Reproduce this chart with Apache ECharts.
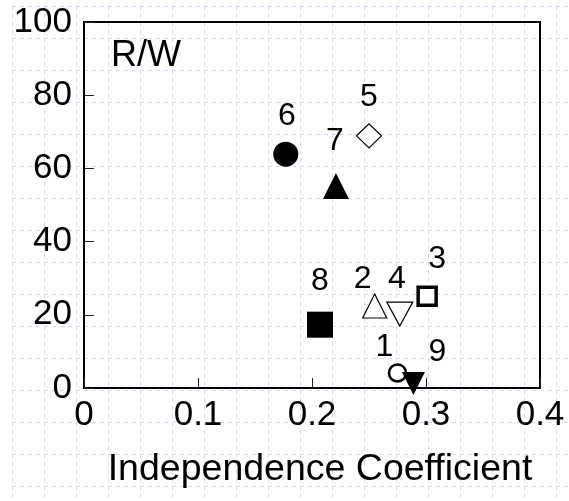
<!DOCTYPE html>
<html lang="en">
  <head>
    <meta charset="UTF-8" />
    <title>R/W vs Independence Coefficient</title>
    <style>
      body {
        margin: 0;
        background-color: #ffffff;
      }
      #chart {
        width: 569px;
        height: 501px;
      }
    </style>
    <script src="https://cdn.jsdelivr.net/npm/echarts@6/dist/echarts.min.js"></script>
  </head>
  <body>
    <div id="chart"></div>
    <script>
      // data
      const pointNames = ["1", "2", "3", "4", "5", "6", "7", "8", "9"];
      const coefValues = [0.275, 0.255, 0.301, 0.277, 0.25, 0.177, 0.221, 0.207, 0.289];
      const rwValues = [4.1, 22.4, 25.1, 20.2, 68.9, 63.9, 55.2, 17.3, 1.2];
      const xTicks = [0, 0.1, 0.2, 0.3, 0.4];
      const yTicks = [0, 20, 40, 60, 80, 100];

      const font = "Liberation Sans, Arial, sans-serif";

      // marker look per point (symbol, size, fill, border, label offset)
      const markerStyle = {
        1: { symbol: "circle", size: 17, fill: "#fff", border: 2.5, offset: [-13, -26] },
        2: { symbol: "triangle", size: 24, fill: "#fff", border: 1.2, offset: [-12, -27] },
        3: { symbol: "rect", size: 18, fill: "#fff", border: 3.5, offset: [10, -37] },
        4: { symbol: "triangle", size: [26, 24], fill: "#fff", border: 1.2, rotate: 180, offset: [-3, -35] },
        5: { symbol: "diamond", size: [25, 24], fill: "#fff", border: 1.2, offset: [0, -39] },
        6: { symbol: "circle", size: 25, fill: "#000", border: 0, offset: [1, -38] },
        7: { symbol: "triangle", size: 26, fill: "#000", border: 0, offset: [-1, -45] },
        8: { symbol: "rect", size: 26, fill: "#000", border: 0, offset: [0, -44] },
        9: { symbol: "triangle", size: 23, fill: "#000", border: 0, rotate: 180, offset: [24, -31] },
      };

      const series = pointNames.map((name, i) => {
        const s = markerStyle[name];
        return {
          name: name,
          type: "scatter",
          xAxisIndex: 0,
          yAxisIndex: 0,
          clip: false,
          z: 5,
          symbol: s.symbol,
          symbolSize: s.size,
          symbolRotate: s.rotate || 0,
          itemStyle: {
            color: s.fill,
            borderColor: "#000",
            borderWidth: s.border,
            opacity: 1,
          },
          label: {
            show: true,
            position: "inside",
            offset: s.offset,
            formatter: name,
            color: "#000",
            fontSize: 32,
            fontFamily: font,
          },
          emphasis: { disabled: true },
          data: [[coefValues[i], rwValues[i]]],
        };
      });

      const chart = echarts.init(document.getElementById("chart"));
      chart.setOption({
        backgroundColor: "#fff",
        animation: false,
        grid: [
          {
            left: 84,
            top: 22,
            width: 456,
            height: 366,
            show: true,
            borderColor: "#000",
            borderWidth: 2,
            backgroundColor: "transparent",
            z: 3,
          },
          // graph-paper background
          { left: 12, top: 6, right: 0, bottom: 0, z: 0 },
        ],
        xAxis: [
          {
            type: "value",
            gridIndex: 0,
            min: xTicks[0],
            max: xTicks[xTicks.length - 1],
            interval: 0.1,
            name: "Independence Coefficient",
            nameLocation: "middle",
            nameGap: 63,
            nameTextStyle: {
              fontSize: 37.5,
              color: "#000",
              fontFamily: font,
              padding: [0, 0, 0, 16],
            },
            axisLine: { show: true, lineStyle: { color: "#000", width: 2 } },
            axisTick: { show: true, inside: true, length: 10, lineStyle: { color: "#222", width: 1 } },
            axisLabel: { fontSize: 35, color: "#000", fontFamily: font, margin: 10 },
            splitLine: { show: false },
            z: 4,
          },
          {
            type: "value",
            gridIndex: 1,
            min: 0,
            max: 557,
            interval: 32,
            axisLine: { show: false },
            axisTick: { show: false },
            axisLabel: { show: false },
            splitLine: { show: true, lineStyle: { color: "#d3dcf6", type: [4, 4], width: 1 } },
            z: 0,
          },
        ],
        yAxis: [
          {
            type: "value",
            gridIndex: 0,
            min: yTicks[0],
            max: yTicks[yTicks.length - 1],
            interval: 20,
            axisLine: { show: true, lineStyle: { color: "#000", width: 2 } },
            axisTick: { show: true, inside: true, length: 10, lineStyle: { color: "#222", width: 1 } },
            axisLabel: { fontSize: 35, color: "#000", fontFamily: font, margin: 12 },
            splitLine: { show: false },
            z: 4,
          },
          {
            type: "value",
            gridIndex: 1,
            inverse: true,
            min: 0,
            max: 495,
            interval: 32,
            axisLine: { show: false },
            axisTick: { show: false },
            axisLabel: { show: false },
            splitLine: { show: true, lineStyle: { color: "#d3dcf6", type: [4, 4], width: 1 } },
            z: 0,
          },
        ],
        graphic: [
          {
            type: "text",
            left: 111,
            top: 38,
            z: 10,
            style: { text: "R/W", fontSize: 36, fill: "#000", fontFamily: font },
          },
        ],
        series: series,
      });
    </script>
  </body>
</html>
